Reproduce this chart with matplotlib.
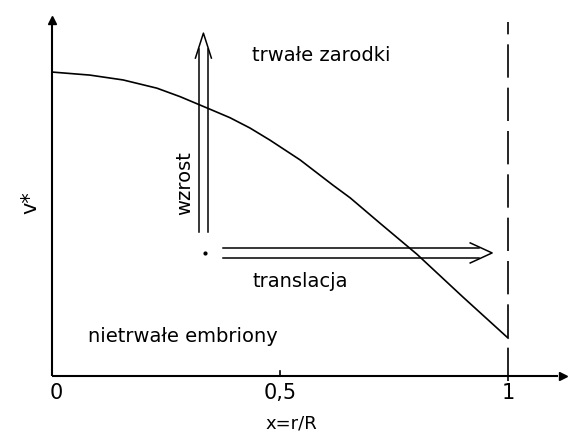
import matplotlib
matplotlib.use("agg")
import matplotlib.pyplot as plt

# critical velocity v* against reduced radius x = r/R
x_vals = [0.0, 0.083, 0.156, 0.230, 0.281, 0.346, 0.390, 0.434, 0.478,
          0.544, 0.616, 0.654, 0.719, 0.800, 0.901, 1.0]
v_vals = [1.0, 0.990, 0.974, 0.947, 0.919, 0.878, 0.850, 0.816, 0.776,
          0.711, 0.628, 0.586, 0.503, 0.401, 0.260, 0.125]

tick_pos = [0.0, 0.5, 1.0]
tick_labels = ["0", "0,5", "1"]

ink = "black"
fs = 14

fig = plt.figure(figsize=(5.71, 4.32), dpi=100)
ax = fig.add_axes([0, 0, 1, 1])
ax.set_xlim(-0.114, 1.138)
ax.set_ylim(-0.184, 1.237)
ax.axis("off")

# axes drawn by hand with filled arrow heads
ax.plot([0, 0], [0, 1.16], color=ink, lw=1.5, solid_capstyle="butt")
ax.plot([0], [1.17], marker="^", color=ink, ms=6)
ax.plot([0, 1.11], [0, 0], color=ink, lw=1.5, solid_capstyle="butt")
ax.plot([1.12], [0], marker=">", color=ink, ms=6)

# tick at 0.5 and labels
ax.plot([0.5, 0.5], [0, 0.018], color=ink, lw=1.2)
for p, lab in zip(tick_pos, tick_labels):
    ax.text(p + (0.01 if p == 0 else 0), -0.055, lab, ha="center", va="center", fontsize=15)
ax.text(0.525, -0.128, "x=r/R", ha="center", va="top", fontsize=13)
ax.text(-0.048, 0.57, "v*", rotation=90, ha="center", va="center", fontsize=15)

# boundary x = 1
ax.plot([1, 1], [-0.015, 1.164], color=ink, lw=1.2, linestyle=(0, (20, 6)))

# stability curve
ax.plot(x_vals, v_vals, color=ink, lw=1.2)

# growth arrow (double shaft, open head)
xc, y0, ytip, yhead, hw = 0.332, 0.474, 1.128, 1.046, 0.0175
for dx in (-0.0105, 0.0095):
    ax.plot([xc + dx, xc + dx], [y0, yhead + 0.03], color=ink, lw=1.1)
ax.plot([xc - hw, xc, xc + hw], [yhead, ytip, yhead], color=ink, lw=1.1)

# translation arrow
yc, x0, xtip, xhead, hh = 0.405, 0.375, 0.965, 0.917, 0.033
for dy in (0.016, -0.017):
    ax.plot([x0, xhead + 0.02], [yc + dy, yc + dy], color=ink, lw=1.1)
ax.plot([xhead, xtip, xhead], [yc + hh, yc, yc - hh], color=ink, lw=1.1)

# starting point
ax.plot([0.336], [0.405], marker="o", color=ink, ms=2)

ax.text(0.59, 1.055, "trwałe zarodki", ha="center", va="center", fontsize=fs)
ax.text(0.29, 0.635, "wzrost", rotation=90, ha="center", va="center", fontsize=fs)
ax.text(0.544, 0.31, "translacja", ha="center", va="center", fontsize=fs)
ax.text(0.287, 0.13, "nietrwałe embriony", ha="center", va="center", fontsize=fs)

fig.savefig("out.png", dpi=100)
